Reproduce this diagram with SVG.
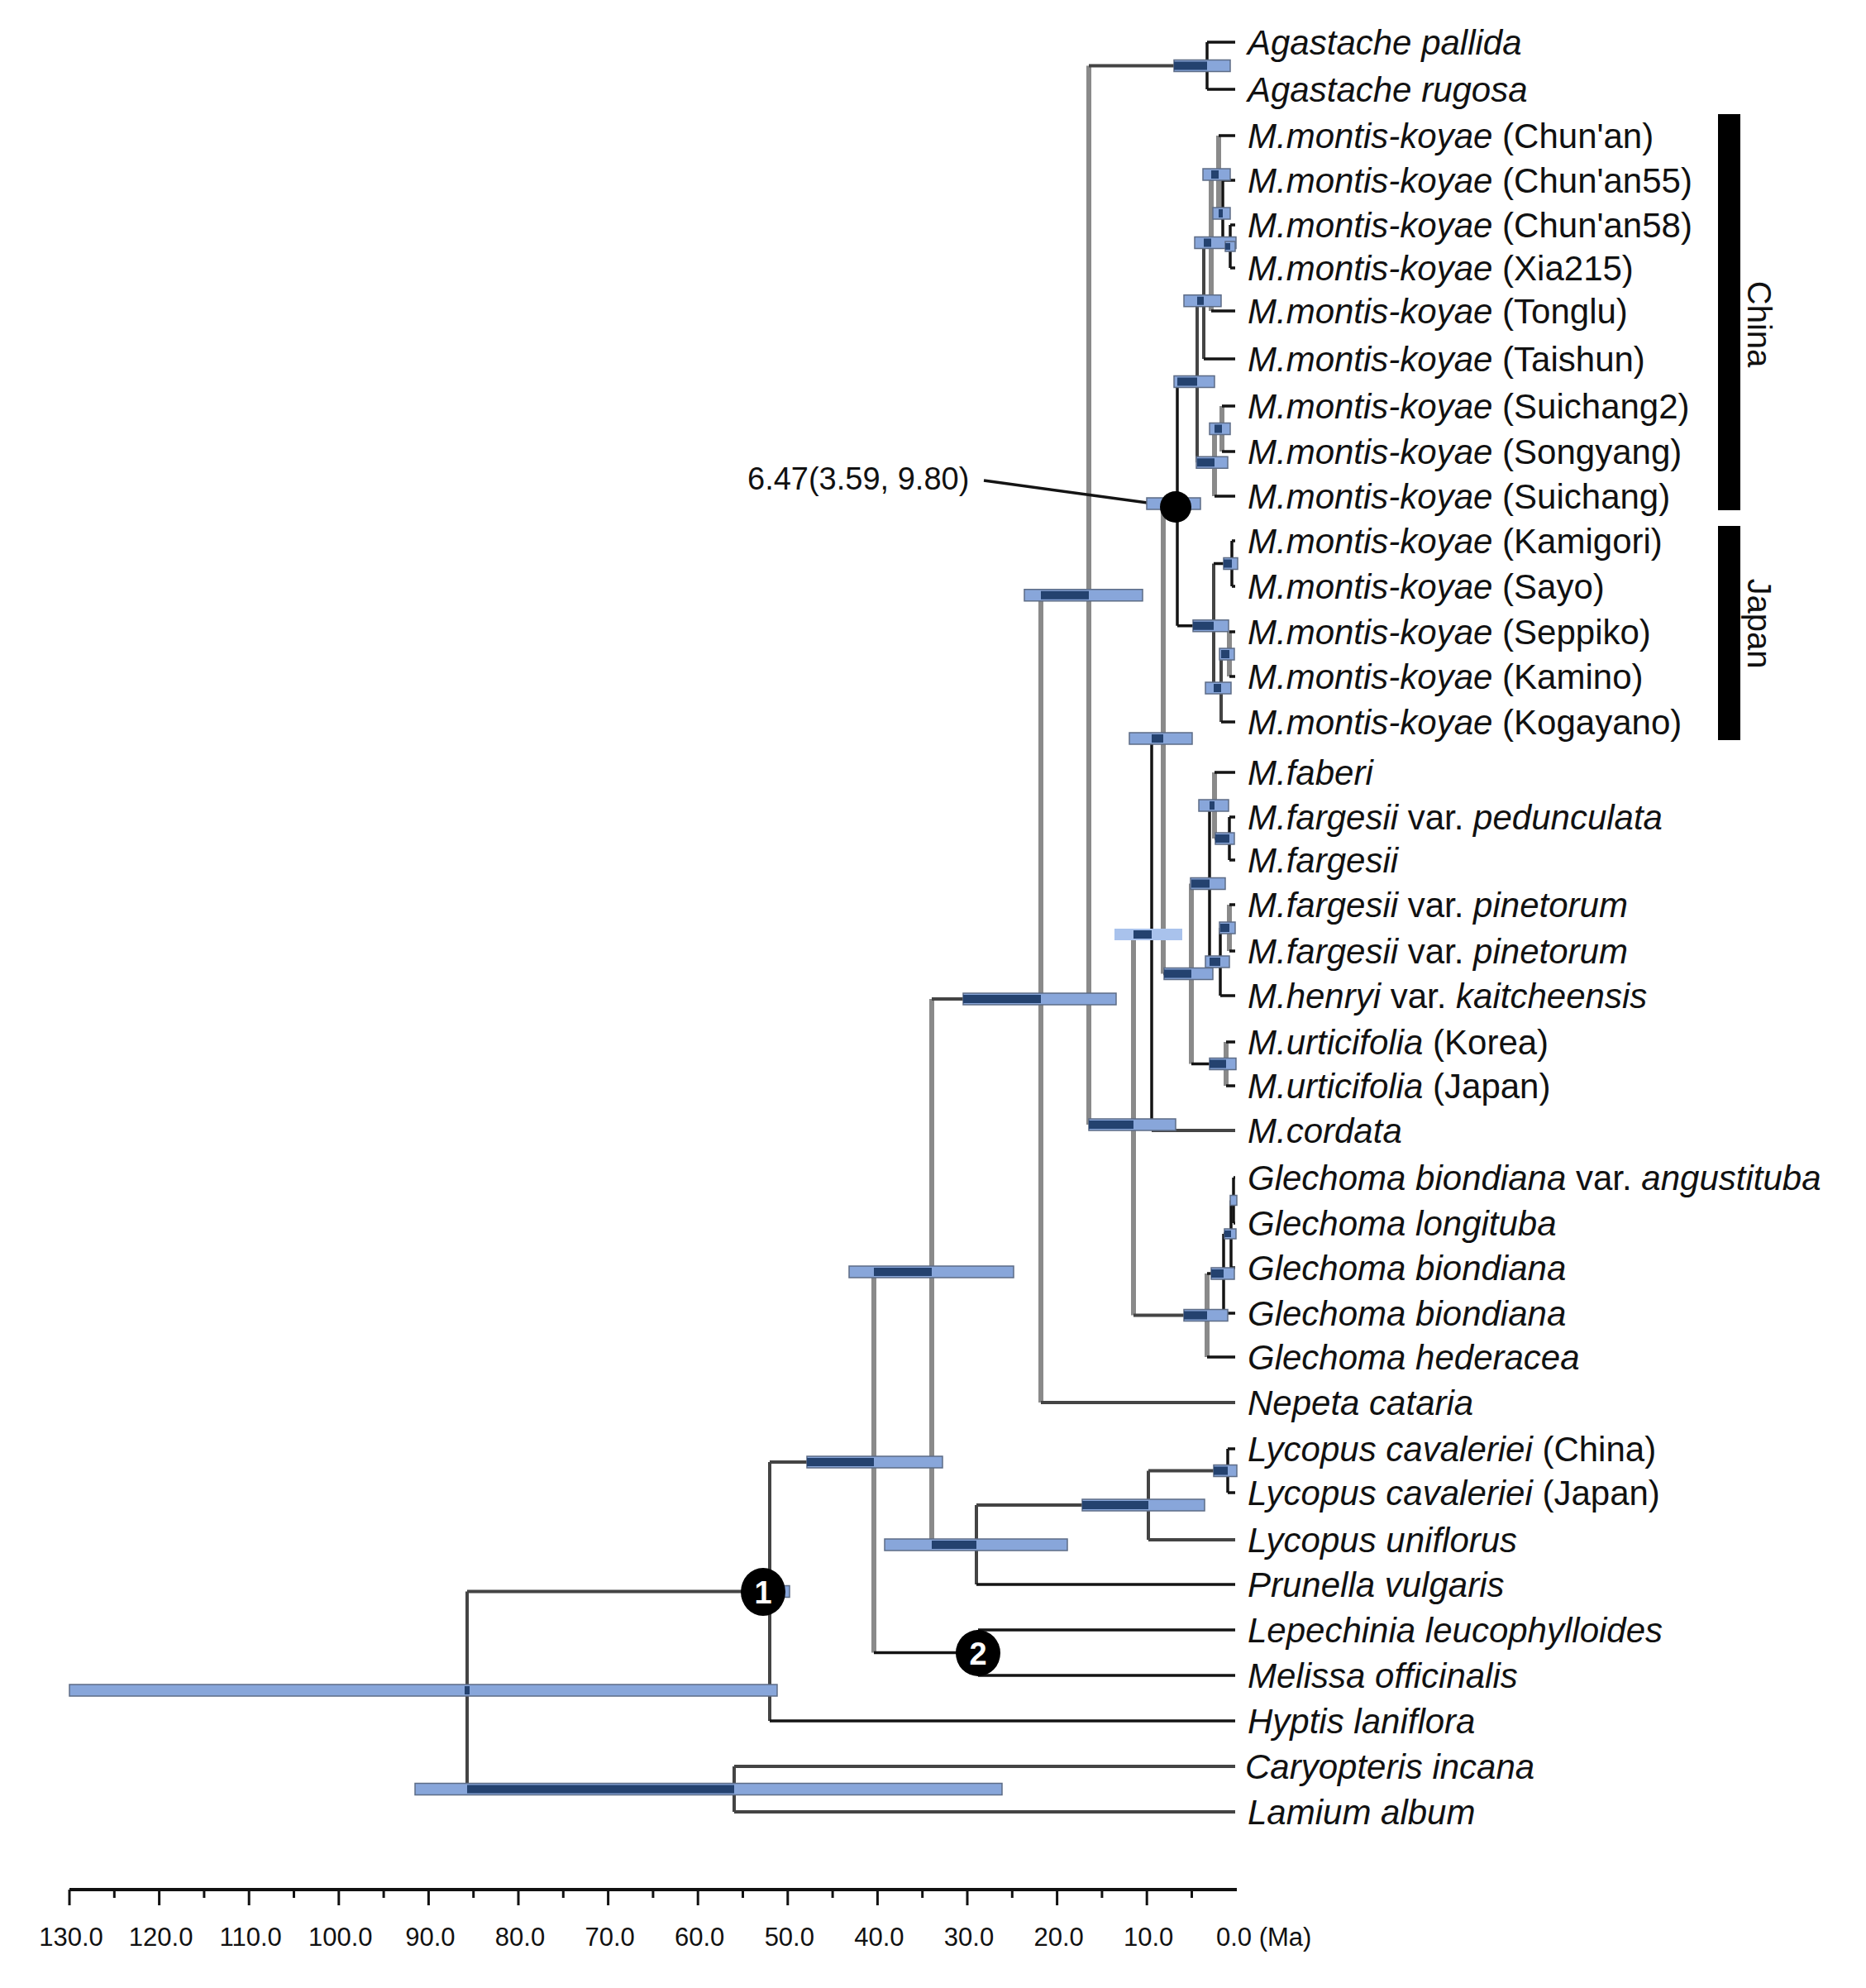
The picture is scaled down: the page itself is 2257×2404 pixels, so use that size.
<svg xmlns="http://www.w3.org/2000/svg" width="2257" height="2404" viewBox="0 0 2257 2404">
<style>
.k{stroke:#141414;stroke-width:3.5;fill:none}
.d{stroke:#444;stroke-width:4;fill:none}
.g{stroke:#8a8a8a;stroke-width:6;fill:none}
.bar{fill:#88a6da;stroke:#5d6c86;stroke-width:1.5}
.lbar{fill:#a9c2ec}
.dk{fill:#24426f}
.tx{font-family:"Liberation Sans",Arial,sans-serif;font-size:42px;font-style:italic;fill:#111}
.n{font-style:normal}
.ax{font-family:"Liberation Sans",Arial,sans-serif;font-size:31px;fill:#111}
.num{font-family:"Liberation Sans",Arial,sans-serif;font-size:38px;font-weight:bold;fill:#fff;text-anchor:middle}
.reg{font-family:"Liberation Sans",Arial,sans-serif;font-size:40px;fill:#111;text-anchor:middle}
</style>
<rect width="2257" height="2404" fill="#fff"/>

<g id="connectors">
<path class="d" d="M565,1924.5V2163.5"/>
<path class="d" d="M931,1768V2081"/>
<path class="d" d="M888,2136V2191"/>
<path class="g" d="M1057,1538V1998.5"/>
<path class="k" d="M1183,1971V2026"/>
<path class="g" d="M1127,1208V1868"/>
<path class="d" d="M1181,1820V1916"/>
<path class="d" d="M1389,1778.5V1862"/>
<path class="k" d="M1485,1752V1805"/>
<path class="g" d="M1259,719.75V1696"/>
<path class="g" d="M1317,79.5V1360"/>
<path class="k" d="M1460,51V108"/>
<path class="g" d="M1371,1130V1590.5"/>
<path class="k" d="M1393,893V1367"/>
<path class="g" d="M1460,1540V1641"/>
<path class="k" d="M1480,1492V1588"/>
<path class="k" d="M1489,1451.5V1533"/>
<path class="k" d="M1492,1424V1479"/>
<path class="g" d="M1407,609V1177.5"/>
<path class="k" d="M1424,461.5V756.75"/>
<path class="d" d="M1448,363.75V559.25"/>
<path class="d" d="M1456,293.5V434"/>
<path class="g" d="M1465,211V376"/>
<path class="g" d="M1474,164V258"/>
<path class="k" d="M1479,218V298"/>
<path class="k" d="M1488,272V324"/>
<path class="g" d="M1469,518.5V600"/>
<path class="g" d="M1478,491V546"/>
<path class="d" d="M1468,681.5V832"/>
<path class="k" d="M1490,654V709"/>
<path class="d" d="M1477,791V873"/>
<path class="g" d="M1487,764V818"/>
<path class="g" d="M1441,1068.5V1286.5"/>
<path class="k" d="M1463,974V1163"/>
<path class="g" d="M1469,934V1014"/>
<path class="k" d="M1487,988V1040"/>
<path class="k" d="M1476,1122V1204"/>
<path class="g" d="M1487,1094V1150"/>
<path class="g" d="M1483,1260V1313"/>
<path class="d" d="M565,1924.5H931M565,2163.5H888M888,2136H1494M888,2191H1494M931,1768H1057"/>
<path class="k" d="M931,2081H1494M1057,1998.5H1183M1183,1971H1494M1183,2026H1494"/>
<path class="d" d="M1057,1538H1127M1127,1208H1259M1127,1868H1181M1181,1820H1389M1389,1862H1494M1389,1778.5H1485"/>
<path class="k" d="M1181,1916H1494M1485,1752H1494M1485,1805H1494"/>
<path class="d" d="M1259,719.75H1317M1259,1696H1494M1317,79.5H1460M1317,1360H1371"/>
<path class="k" d="M1460,51H1494M1460,108H1494"/>
<path class="d" d="M1371,1130H1393M1371,1590.5H1460M1393,1367H1494"/>
<path class="k" d="M1393,893H1407M1460,1540H1480M1460,1641H1494M1480,1492H1489M1480,1588H1494M1489,1451.5H1492M1489,1533H1494M1492,1424H1494M1492,1479H1494"/>
<path class="k" d="M1407,609H1424M1407,1177.5H1441M1424,461.5H1448M1424,756.75H1468"/>
<path class="k" d="M1448,363.75H1456M1448,559.25H1469M1456,293.5H1465M1456,434H1494M1465,211H1474M1465,376H1494M1474,164H1494M1474,258H1479M1479,218H1494M1479,298H1488M1488,272H1494M1488,324H1494"/>
<path class="k" d="M1469,518.5H1478M1469,600H1494M1478,491H1494M1478,546H1494"/>
<path class="k" d="M1468,681.5H1490M1468,832H1477M1490,654H1494M1490,709H1494M1477,791H1487M1477,873H1494M1487,764H1494M1487,818H1494"/>
<path class="k" d="M1441,1068.5H1463M1441,1286.5H1483M1463,974H1469M1463,1163H1476M1469,934H1494M1469,1014H1487M1487,988H1494M1487,1040H1494M1476,1122H1487M1476,1204H1494M1487,1094H1494M1487,1150H1494M1483,1260H1494M1483,1313H1494"/>
<path class="k" d="M1190,581L1410,611"/>
</g>

<g id="node-root"><rect class="bar" x="84" y="2037" width="856" height="14"/><rect class="dk" x="562" y="2039" width="6" height="10"/></g>
<g id="node-CL"><rect class="bar" x="502" y="2156.5" width="710" height="14"/><rect class="dk" x="565" y="2158.5" width="323" height="10"/></g>
<g id="node-1"><rect class="bar" x="905" y="1917.5" width="50" height="14"/><rect class="dk" x="905" y="1919.5" width="26" height="10"/>
<ellipse cx="923" cy="1925" rx="27" ry="29" fill="#000"/><text class="num" x="923" y="1939">1</text></g>
<g id="node-A"><rect class="bar" x="976" y="1761" width="164" height="14"/><rect class="dk" x="976" y="1763" width="81" height="10"/></g>
<g id="node-2"><ellipse cx="1183" cy="1999" rx="27" ry="28" fill="#000"/><text class="num" x="1183" y="2013">2</text></g>
<g id="node-B"><rect class="bar" x="1027" y="1531" width="199" height="14"/><rect class="dk" x="1057" y="1533" width="70" height="10"/></g>
<g id="node-C"><rect class="bar" x="1165" y="1201" width="185" height="14"/><rect class="dk" x="1165" y="1203" width="94" height="10"/></g>
<g id="node-D"><rect class="bar" x="1070" y="1861" width="221" height="14"/><rect class="dk" x="1127" y="1863" width="54" height="10"/></g>
<g id="node-E"><rect class="bar" x="1309" y="1813" width="148" height="14"/><rect class="dk" x="1309" y="1815" width="80" height="10"/></g>
<g id="node-F"><rect class="bar" x="1468" y="1771.5" width="28" height="14"/><rect class="dk" x="1468" y="1773.5" width="17" height="10"/></g>
<g id="node-G"><rect class="bar" x="1239" y="712.75" width="143" height="14"/><rect class="dk" x="1259" y="714.75" width="58" height="10"/></g>
<g id="node-AG"><rect class="bar" x="1420" y="72.5" width="68" height="14"/><rect class="dk" x="1420" y="74.5" width="40" height="10"/></g>
<g id="node-H"><rect class="bar" x="1317" y="1353" width="105" height="14"/><rect class="dk" x="1317" y="1355" width="54" height="10"/></g>
<g id="node-I"><rect class="lbar" x="1348" y="1123" width="82" height="14"/><rect class="dk" x="1371" y="1125" width="22" height="10"/></g>
<g id="node-J"><rect class="bar" x="1432" y="1583.5" width="53" height="14"/><rect class="dk" x="1432" y="1585.5" width="28" height="10"/></g>
<g id="node-n3"><rect class="bar" x="1465" y="1533" width="28" height="14"/><rect class="dk" x="1465" y="1535" width="15" height="10"/></g>
<g id="node-n2"><rect class="bar" x="1481" y="1486" width="14" height="12"/><rect class="dk" x="1481" y="1488" width="8" height="8"/></g>
<g id="node-n1"><rect class="bar" x="1488" y="1445.5" width="8" height="12"/></g>
<g id="node-K"><rect class="bar" x="1366" y="886" width="76" height="14"/><rect class="dk" x="1393" y="888" width="14" height="10"/></g>
<g id="node-L"><rect class="bar" x="1387" y="602" width="65" height="14"/><rect class="dk" x="1407" y="604" width="17" height="10"/>
<circle cx="1422" cy="613" r="19" fill="#000"/></g>
<g id="node-M"><rect class="bar" x="1408" y="1170.5" width="59" height="14"/><rect class="dk" x="1408" y="1172.5" width="33" height="10"/></g>
<g id="node-Q"><rect class="bar" x="1440" y="1061.5" width="42" height="14"/><rect class="dk" x="1441" y="1063.5" width="22" height="10"/></g>
<g id="node-FB"><rect class="bar" x="1450" y="967" width="36" height="14"/><rect class="dk" x="1463" y="969" width="6" height="10"/></g>
<g id="node-PF"><rect class="bar" x="1470" y="1007" width="23" height="14"/><rect class="dk" x="1470" y="1009" width="17" height="10"/></g>
<g id="node-PH"><rect class="bar" x="1458" y="1156" width="29" height="14"/><rect class="dk" x="1463" y="1158" width="13" height="10"/></g>
<g id="node-PP"><rect class="bar" x="1475" y="1115" width="19" height="14"/><rect class="dk" x="1476" y="1117" width="11" height="10"/></g>
<g id="node-UR"><rect class="bar" x="1463" y="1279.5" width="32" height="14"/><rect class="dk" x="1463" y="1281.5" width="20" height="10"/></g>
<g id="node-CH"><rect class="bar" x="1420" y="454.5" width="49" height="14"/><rect class="dk" x="1424" y="456.5" width="24" height="10"/></g>
<g id="node-T2"><rect class="bar" x="1432" y="356.75" width="45" height="14"/><rect class="dk" x="1448" y="358.75" width="8" height="10"/></g>
<g id="node-T1"><rect class="bar" x="1445" y="286.5" width="50" height="14"/><rect class="dk" x="1456" y="288.5" width="9" height="10"/></g>
<g id="node-N1c"><rect class="bar" x="1455" y="204" width="33" height="14"/><rect class="dk" x="1465" y="206" width="9" height="10"/></g>
<g id="node-N2c"><rect class="bar" x="1467" y="251" width="21" height="14"/><rect class="dk" x="1474" y="253" width="5" height="10"/></g>
<g id="node-X58"><rect class="bar" x="1482" y="292" width="12" height="12"/><rect class="dk" x="1482" y="294" width="6" height="8"/></g>
<g id="node-SU"><rect class="bar" x="1447" y="552.25" width="38" height="14"/><rect class="dk" x="1448" y="554.25" width="21" height="10"/></g>
<g id="node-S2S"><rect class="bar" x="1463" y="511.5" width="25" height="14"/><rect class="dk" x="1469" y="513.5" width="9" height="10"/></g>
<g id="node-JP"><rect class="bar" x="1443" y="749.75" width="43" height="14"/><rect class="dk" x="1443" y="751.75" width="25" height="10"/></g>
<g id="node-JK"><rect class="bar" x="1480" y="674.5" width="17" height="14"/><rect class="dk" x="1480" y="676.5" width="10" height="10"/></g>
<g id="node-JX"><rect class="bar" x="1458" y="825" width="31" height="14"/><rect class="dk" x="1468" y="827" width="9" height="10"/></g>
<g id="node-JY"><rect class="bar" x="1475" y="784" width="18" height="14"/><rect class="dk" x="1477" y="786" width="10" height="10"/></g>

<g id="annotation"><text x="904" y="592" font-family="Liberation Sans, Arial, sans-serif" font-size="38" fill="#111">6.47(3.59, 9.80)</text></g>

<g id="taxa">
<g id="t0"><text class="tx" x="1509" y="66">Agastache pallida</text></g>
<g id="t1"><text class="tx" x="1509" y="123">Agastache rugosa</text></g>
<g id="t2"><text class="tx" x="1509" y="179">M.montis-koyae<tspan class="n"> (Chun'an)</tspan></text></g>
<g id="t3"><text class="tx" x="1509" y="233">M.montis-koyae<tspan class="n"> (Chun'an55)</tspan></text></g>
<g id="t4"><text class="tx" x="1509" y="287">M.montis-koyae<tspan class="n"> (Chun'an58)</tspan></text></g>
<g id="t5"><text class="tx" x="1509" y="339">M.montis-koyae<tspan class="n"> (Xia215)</tspan></text></g>
<g id="t6"><text class="tx" x="1509" y="391">M.montis-koyae<tspan class="n"> (Tonglu)</tspan></text></g>
<g id="t7"><text class="tx" x="1509" y="449">M.montis-koyae<tspan class="n"> (Taishun)</tspan></text></g>
<g id="t8"><text class="tx" x="1509" y="506">M.montis-koyae<tspan class="n"> (Suichang2)</tspan></text></g>
<g id="t9"><text class="tx" x="1509" y="561">M.montis-koyae<tspan class="n"> (Songyang)</tspan></text></g>
<g id="t10"><text class="tx" x="1509" y="615">M.montis-koyae<tspan class="n"> (Suichang)</tspan></text></g>
<g id="t11"><text class="tx" x="1509" y="669">M.montis-koyae<tspan class="n"> (Kamigori)</tspan></text></g>
<g id="t12"><text class="tx" x="1509" y="724">M.montis-koyae<tspan class="n"> (Sayo)</tspan></text></g>
<g id="t13"><text class="tx" x="1509" y="779">M.montis-koyae<tspan class="n"> (Seppiko)</tspan></text></g>
<g id="t14"><text class="tx" x="1509" y="833">M.montis-koyae<tspan class="n"> (Kamino)</tspan></text></g>
<g id="t15"><text class="tx" x="1509" y="888">M.montis-koyae<tspan class="n"> (Kogayano)</tspan></text></g>
<g id="t16"><text class="tx" x="1509" y="949">M.faberi</text></g>
<g id="t17"><text class="tx" x="1509" y="1003">M.fargesii<tspan class="n"> var. </tspan>pedunculata</text></g>
<g id="t18"><text class="tx" x="1509" y="1055">M.fargesii</text></g>
<g id="t19"><text class="tx" x="1509" y="1109">M.fargesii<tspan class="n"> var. </tspan>pinetorum</text></g>
<g id="t20"><text class="tx" x="1509" y="1165">M.fargesii<tspan class="n"> var. </tspan>pinetorum</text></g>
<g id="t21"><text class="tx" x="1509" y="1219">M.henryi<tspan class="n"> var. </tspan>kaitcheensis</text></g>
<g id="t22"><text class="tx" x="1509" y="1275">M.urticifolia<tspan class="n"> (Korea)</tspan></text></g>
<g id="t23"><text class="tx" x="1509" y="1328">M.urticifolia<tspan class="n"> (Japan)</tspan></text></g>
<g id="t24"><text class="tx" x="1509" y="1382">M.cordata</text></g>
<g id="t25"><text class="tx" x="1509" y="1439">Glechoma biondiana<tspan class="n"> var. </tspan>angustituba</text></g>
<g id="t26"><text class="tx" x="1509" y="1494">Glechoma longituba</text></g>
<g id="t27"><text class="tx" x="1509" y="1548">Glechoma biondiana</text></g>
<g id="t28"><text class="tx" x="1509" y="1603">Glechoma biondiana</text></g>
<g id="t29"><text class="tx" x="1509" y="1656">Glechoma hederacea</text></g>
<g id="t30"><text class="tx" x="1509" y="1711">Nepeta cataria</text></g>
<g id="t31"><text class="tx" x="1509" y="1767">Lycopus cavaleriei<tspan class="n"> (China)</tspan></text></g>
<g id="t32"><text class="tx" x="1509" y="1820">Lycopus cavaleriei<tspan class="n"> (Japan)</tspan></text></g>
<g id="t33"><text class="tx" x="1509" y="1877">Lycopus uniflorus</text></g>
<g id="t34"><text class="tx" x="1509" y="1931">Prunella vulgaris</text></g>
<g id="t35"><text class="tx" x="1509" y="1986">Lepechinia leucophylloides</text></g>
<g id="t36"><text class="tx" x="1509" y="2041">Melissa officinalis</text></g>
<g id="t37"><text class="tx" x="1509" y="2096">Hyptis laniflora</text></g>
<g id="t38"><text class="tx" x="1506" y="2151">Caryopteris incana</text></g>
<g id="t39"><text class="tx" x="1509" y="2206">Lamium album</text></g>
</g>

<g id="regions">
<rect x="2078" y="138" width="27" height="479" fill="#000"/>
<rect x="2078" y="636" width="27" height="259" fill="#000"/>
<text class="reg" transform="translate(2114,392) rotate(90)">China</text>
<text class="reg" transform="translate(2114,754) rotate(90)">Japan</text>
</g>

<g id="axis" stroke="#111" stroke-width="3">
<path stroke-width="4" d="M84,2285H1496"/>
<path d="M84,2285v19M192.6,2285v19M301.2,2285v19M409.8,2285v19M518.4,2285v19M627,2285v19M735.6,2285v19M844.2,2285v19M952.8,2285v19M1061.4,2285v19M1170,2285v19M1278.6,2285v19M1387.2,2285v19"/>
<path d="M138.3,2285v10M246.9,2285v10M355.5,2285v10M464.1,2285v10M572.7,2285v10M681.3,2285v10M789.9,2285v10M898.5,2285v10M1007.1,2285v10M1115.7,2285v10M1224.3,2285v10M1332.9,2285v10M1441.5,2285v10"/>
</g>
<g id="axis-labels">
<text class="ax" x="86" y="2353" text-anchor="middle">130.0</text>
<text class="ax" x="194.6" y="2353" text-anchor="middle">120.0</text>
<text class="ax" x="303.2" y="2353" text-anchor="middle">110.0</text>
<text class="ax" x="411.8" y="2353" text-anchor="middle">100.0</text>
<text class="ax" x="520.4" y="2353" text-anchor="middle">90.0</text>
<text class="ax" x="629" y="2353" text-anchor="middle">80.0</text>
<text class="ax" x="737.6" y="2353" text-anchor="middle">70.0</text>
<text class="ax" x="846.2" y="2353" text-anchor="middle">60.0</text>
<text class="ax" x="954.8" y="2353" text-anchor="middle">50.0</text>
<text class="ax" x="1063.4" y="2353" text-anchor="middle">40.0</text>
<text class="ax" x="1172" y="2353" text-anchor="middle">30.0</text>
<text class="ax" x="1280.6" y="2353" text-anchor="middle">20.0</text>
<text class="ax" x="1389.2" y="2353" text-anchor="middle">10.0</text>
<text class="ax" x="1471" y="2353" text-anchor="start">0.0 (Ma)</text>
</g>
</svg>
